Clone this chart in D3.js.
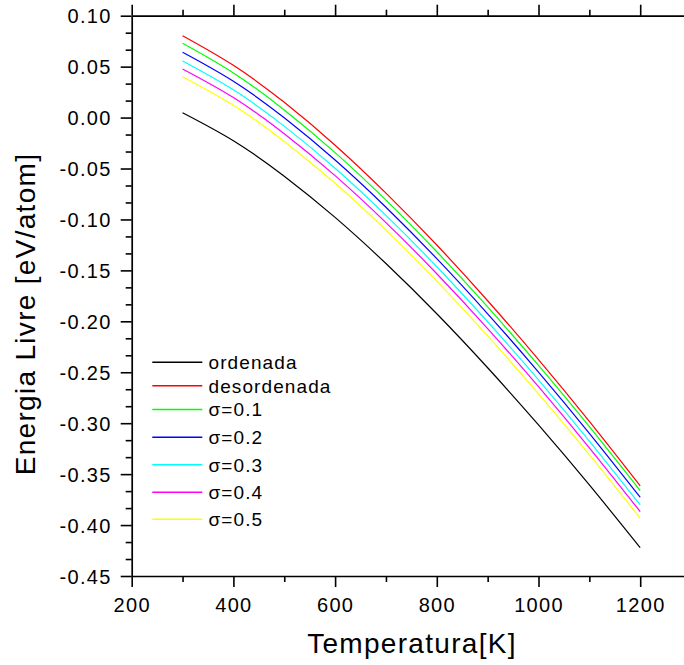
<!DOCTYPE html>
<html>
<head>
<meta charset="utf-8">
<script src="https://cdn.jsdelivr.net/npm/d3@7"></script>
<style>
  html, body { margin: 0; padding: 0; background: #fff; }
  svg { display: block; }
  text { font-family: "Liberation Sans", Arial, Helvetica, sans-serif; fill: #000; }
</style>
</head>
<body>
<svg id="chart" width="684" height="665"></svg>
<script>
// ---- data ----
const temps = [300, 400, 500, 600, 700, 800, 900, 1000, 1100, 1200];
const ordenada    = [0.0048, -0.0227, -0.0575, -0.0980, -0.1433, -0.1926, -0.2456, -0.3017, -0.3606, -0.4222];
const desordenada = [0.0804,  0.0513,  0.0150, -0.0271, -0.0741, -0.1251, -0.1798, -0.2376, -0.2983, -0.3616];
const sigma01     = [0.0729,  0.0438,  0.0075, -0.0344, -0.0810, -0.1317, -0.1859, -0.2433, -0.3034, -0.3662];
const sigma02     = [0.0641,  0.0356, -0.0002, -0.0417, -0.0880, -0.1385, -0.1926, -0.2498, -0.3099, -0.3727];
const sigma03     = [0.0555,  0.0272, -0.0084, -0.0498, -0.0960, -0.1464, -0.2004, -0.2575, -0.3176, -0.3803];
const sigma04     = [0.0477,  0.0196, -0.0158, -0.0570, -0.1031, -0.1533, -0.2071, -0.2642, -0.3242, -0.3868];
const sigma05     = [0.0401,  0.0120, -0.0234, -0.0645, -0.1105, -0.1606, -0.2143, -0.2712, -0.3309, -0.3933];

const seriesNames  = ["ordenada", "desordenada", "σ=0.1", "σ=0.2", "σ=0.3", "σ=0.4", "σ=0.5"];
const seriesValues = [ordenada, desordenada, sigma01, sigma02, sigma03, sigma04, sigma05];
const seriesColors = ["#000000", "#ff0000", "#00ff00", "#0000ff", "#00ffff", "#ff00ff", "#ffff00"];

const xMajorTicks = [200, 400, 600, 800, 1000, 1200];
const xMinorTicks = [300, 500, 700, 900, 1100];
const yMajorTicks = [0.10, 0.05, 0.00, -0.05, -0.10, -0.15, -0.20, -0.25, -0.30, -0.35, -0.40, -0.45];

const xTitle = "Temperatura[K]";
const yTitle = "Energia Livre [eV/atom]";

// ---- layout ----
const plotLeft = 131.7, plotTop = 15.7, plotBottom = 576;
const pxPer100K = 50.85;
const svg = d3.select("#chart");

const x = d3.scaleLinear().domain([200, 1300]).range([plotLeft, plotLeft + 11 * pxPer100K]);
const y = d3.scaleLinear().domain([-0.45, 0.10]).range([plotBottom, plotTop]);

const majorLen = 11, minorLen = 6;
const yMinorTicks = [];
for (let i = 0; i < yMajorTicks.length - 1; i++) {
  const a = yMajorTicks[i], b = yMajorTicks[i + 1];
  yMinorTicks.push(a + (b - a) / 3, a + 2 * (b - a) / 3);
}

function styleAxis(g) {
  g.selectAll("path.domain").attr("stroke", "#000").attr("stroke-width", 1.7);
  g.selectAll(".tick line").attr("stroke", "#000").attr("stroke-width", 1.6);
}

// bottom axis
const gb = svg.append("g").attr("transform", `translate(0,${plotBottom})`)
  .call(d3.axisBottom(x).tickValues(xMajorTicks).tickSize(majorLen).tickSizeOuter(0).tickFormat(d => String(d)));
gb.selectAll(".tick text").attr("font-size", 20).attr("letter-spacing", "1.3px")
  .attr("y", 36).attr("dy", 0);
styleAxis(gb);
const gbm = svg.append("g").attr("transform", `translate(0,${plotBottom})`)
  .call(d3.axisBottom(x).tickValues(xMinorTicks).tickSize(minorLen).tickSizeOuter(0).tickFormat(""));
gbm.select("path.domain").remove();
styleAxis(gbm);

// top axis
const gt = svg.append("g").attr("transform", `translate(0,${plotTop})`)
  .call(d3.axisTop(x).tickValues(xMajorTicks).tickSize(majorLen).tickSizeOuter(0).tickFormat(""));
styleAxis(gt);
const gtm = svg.append("g").attr("transform", `translate(0,${plotTop})`)
  .call(d3.axisTop(x).tickValues(xMinorTicks).tickSize(minorLen).tickSizeOuter(0).tickFormat(""));
gtm.select("path.domain").remove();
styleAxis(gtm);

// left axis
const gl = svg.append("g").attr("transform", `translate(${plotLeft},0)`)
  .call(d3.axisLeft(y).tickValues(yMajorTicks).tickSize(majorLen).tickSizeOuter(0).tickFormat(d => d.toFixed(2)));
gl.selectAll(".tick text").attr("font-size", 20).attr("letter-spacing", "1.3px")
  .attr("x", -20).attr("dy", "0.36em");
styleAxis(gl);
const glm = svg.append("g").attr("transform", `translate(${plotLeft},0)`)
  .call(d3.axisLeft(y).tickValues(yMinorTicks).tickSize(minorLen).tickSizeOuter(0).tickFormat(""));
glm.select("path.domain").remove();
styleAxis(glm);

// lines
const line = d3.line()
  .x((d, i) => x(temps[i]))
  .y(d => y(d))
  .curve(d3.curveNatural);

svg.append("g").selectAll("path.series")
  .data(seriesValues)
  .join("path")
  .attr("class", "series")
  .attr("fill", "none")
  .attr("stroke", (d, i) => seriesColors[i])
  .attr("stroke-width", 1.2)
  .attr("d", d => line(d));

// legend
const legendRowY = [362.3, 385.7, 409.5, 437.2, 464.7, 492.2, 519.3];
const lg = svg.append("g");
seriesNames.forEach((name, i) => {
  lg.append("line")
    .attr("x1", 152.3).attr("x2", 202.3)
    .attr("y1", legendRowY[i]).attr("y2", legendRowY[i])
    .attr("stroke", seriesColors[i]).attr("stroke-width", 1.5);
  lg.append("text")
    .attr("x", 208.5).attr("y", legendRowY[i]).attr("dy", "0.36em")
    .attr("font-size", 19).attr("letter-spacing", "1.1px")
    .text(name);
});

// axis titles
svg.append("text")
  .attr("x", 412).attr("y", 653)
  .attr("text-anchor", "middle")
  .attr("font-size", 28).attr("letter-spacing", "1.3px")
  .text(xTitle);

svg.append("text")
  .attr("transform", "translate(35,314) rotate(-90)")
  .attr("text-anchor", "middle")
  .attr("font-size", 28).attr("letter-spacing", "1.3px")
  .text(yTitle);
</script>
</body>
</html>
